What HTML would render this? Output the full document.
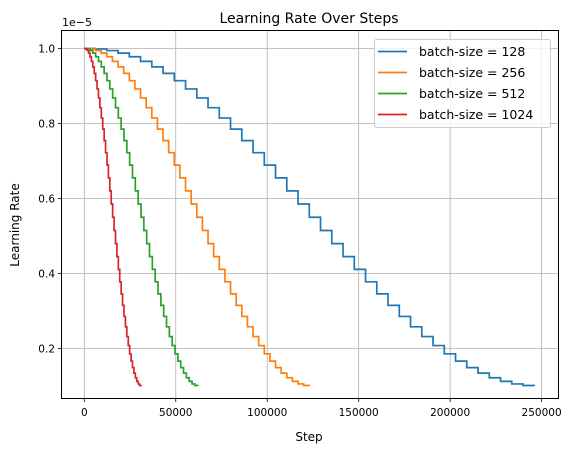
<!DOCTYPE html>
<html><head><meta charset="utf-8"><style>
body{margin:0;background:#fff;font-family:"Liberation Sans","DejaVu Sans",sans-serif}
svg text{font-family:"DejaVu Sans","Liberation Sans",sans-serif;fill:#000}
</style></head><body>
<svg id="chart" width="577" height="455">
<text x="309" y="23" font-size="14" text-anchor="middle">Learning Rate Over Steps</text>
<text x="19" y="225" font-size="12" text-anchor="middle" transform="rotate(-90 19 225)">Learning Rate</text>
<text x="309" y="441" font-size="12" text-anchor="middle">Step</text>
<text x="62" y="26" font-size="11">1e−5</text>
<g id="grid"></g><g id="series"></g>
<rect x="61.5" y="30.5" width="497" height="368" fill="none" stroke="#000" stroke-width="1"/>
<g id="legend"></g>
</svg>
<script>
const xTicks=[0,50000,100000,150000,200000,250000];
const yTicks=[0.2,0.4,0.6,0.8,1.0];
const levels=[1.000,0.9986,0.9945,0.9876,0.9780,0.9657,0.9510,0.9337,0.9141,0.8922,0.8682,0.8422,0.8145,0.7851,0.7543,0.7222,0.6891,0.6550,0.6204,0.5853,0.5500,0.5147,0.4796,0.4450,0.4109,0.3778,0.3457,0.3149,0.2855,0.2578,0.2318,0.2078,0.1859,0.1663,0.1490,0.1343,0.1220,0.1124,0.1055,0.1014,0.1000];
const seriesNames=["batch-size = 128","batch-size = 256","batch-size = 512","batch-size = 1024"];
const stepWidths=[6150,3075,1550,775];
const colors=["#1f77b4","#ff7f0e","#2ca02c","#d62728"];
const NS="http://www.w3.org/2000/svg";
const X=v=>84.3+v*(457.3/250000);
const Y=v=>48.5+(1.0-v)*375;
const grid=document.getElementById('grid');
function mk(tag,attrs,parent){const e=document.createElementNS(NS,tag);for(const k in attrs)e.setAttribute(k,attrs[k]);parent.appendChild(e);return e;}
xTicks.forEach(t=>{
 const g=mk('line',{x1:X(t),x2:X(t),y1:30.5,y2:398.5,stroke:'#b0b0b0','stroke-width':0.8},grid);
 
 
 mk('line',{x1:X(t),x2:X(t),y1:398.5,y2:402,stroke:'#000','stroke-width':0.8},grid);
 const tx=mk('text',{x:X(t),y:416,'font-size':10.5,'text-anchor':'middle'},grid);tx.textContent=t;
 
 
});
yTicks.forEach(t=>{
 const g=mk('line',{x1:61.5,x2:558.5,y1:Y(t),y2:Y(t),stroke:'#b0b0b0','stroke-width':0.8},grid);
 
 
 mk('line',{x1:58,x2:61.5,y1:Y(t),y2:Y(t),stroke:'#000','stroke-width':0.8},grid);
 const tx=mk('text',{x:55,y:Y(t)+3.8,'font-size':10.5,'text-anchor':'end'},grid);tx.textContent=t.toFixed(1);
 
 
});
const sg=document.getElementById('series');
stepWidths.forEach((w,i)=>{
 let d='';
 levels.forEach((lv,k)=>{
  const x0=X(k*w),y=Y(lv);
  d+=(k===0?'M':'L')+x0.toFixed(2)+','+y.toFixed(2);
  if(k<levels.length-1)d+='L'+X((k+1)*w).toFixed(2)+','+y.toFixed(2);
 });
 const p=mk('path',{d:d,fill:'none',stroke:colors[i],'stroke-width':1.7},sg);
 
 
});
const lg=document.getElementById('legend');
mk('rect',{x:374.5,y:39.5,width:176,height:88,rx:2,fill:'#fff','fill-opacity':0.8,stroke:'#ccc'},lg);
seriesNames.forEach((n,i)=>{
 const y=51.5+i*21;
 mk('line',{x1:378,x2:407,y1:y,y2:y,stroke:colors[i],'stroke-width':1.7},lg);
 const t=mk('text',{x:419,y:y+4.5,'font-size':12.5},lg);t.textContent=n;
 
 
});
</script>
</body></html>
